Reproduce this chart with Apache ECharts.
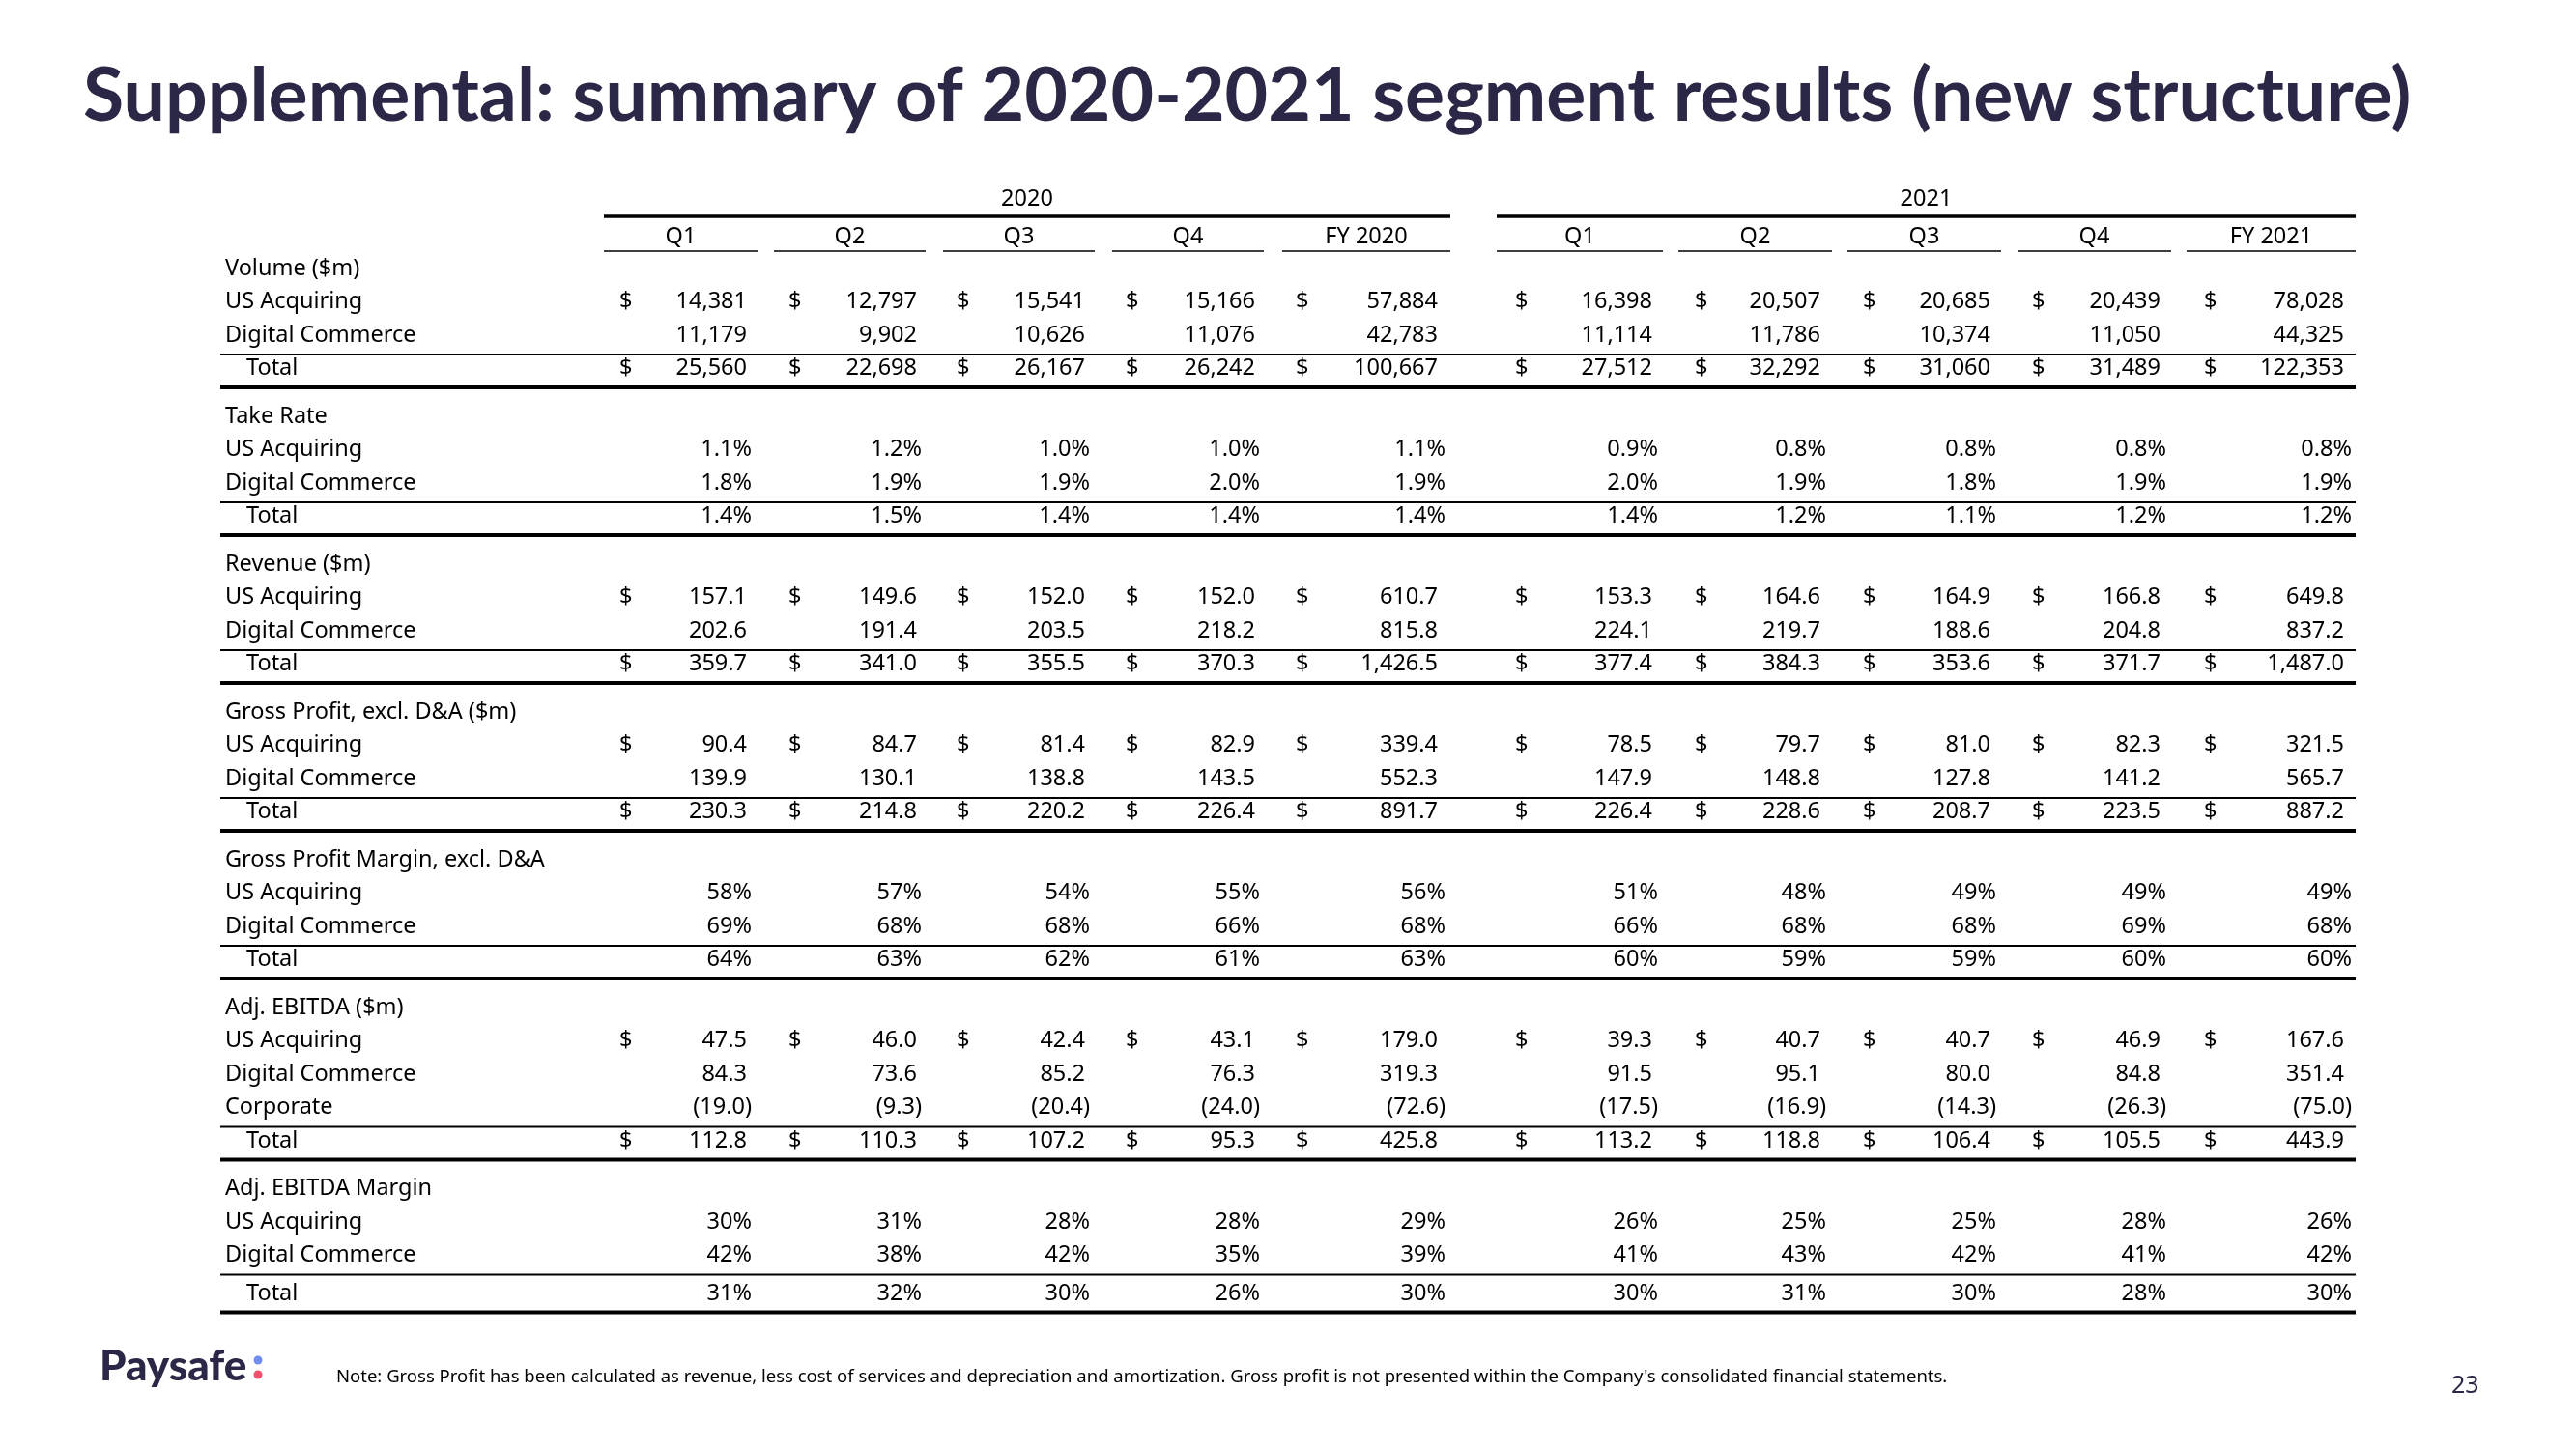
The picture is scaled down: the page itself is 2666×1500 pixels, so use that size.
<!DOCTYPE html>
<html><head><meta charset="utf-8">
<script src="https://cdn.jsdelivr.net/npm/echarts@6/dist/echarts.min.js"></script>
<style>html,body{margin:0;padding:0;background:#fff}#c{width:2666px;height:1500px}</style>
</head><body><div id="c"></div>
<script>
// ---------------- DATA ----------------
const titleText = 'Supplemental: summary of 2020-2021 segment results (new structure)';
const years = ['2020', '2021'];
const periods = ['Q1', 'Q2', 'Q3', 'Q4', 'FY 2020', 'Q1', 'Q2', 'Q3', 'Q4', 'FY 2021'];
const sectionTitles = ['Volume ($m)', 'Take Rate', 'Revenue ($m)', 'Gross Profit, excl. D&A ($m)',
  'Gross Profit Margin, excl. D&A', 'Adj. EBITDA ($m)', 'Adj. EBITDA Margin'];
const segUS = 'US Acquiring';
const segDC = 'Digital Commerce';
const segCorp = 'Corporate';
const segTotal = 'Total';

const volumeUS    = [14381, 12797, 15541, 15166, 57884, 16398, 20507, 20685, 20439, 78028];
const volumeDC    = [11179, 9902, 10626, 11076, 42783, 11114, 11786, 10374, 11050, 44325];
const volumeTotal = [25560, 22698, 26167, 26242, 100667, 27512, 32292, 31060, 31489, 122353];

const takeRateUS    = [1.1, 1.2, 1.0, 1.0, 1.1, 0.9, 0.8, 0.8, 0.8, 0.8];
const takeRateDC    = [1.8, 1.9, 1.9, 2.0, 1.9, 2.0, 1.9, 1.8, 1.9, 1.9];
const takeRateTotal = [1.4, 1.5, 1.4, 1.4, 1.4, 1.4, 1.2, 1.1, 1.2, 1.2];

const revenueUS    = [157.1, 149.6, 152.0, 152.0, 610.7, 153.3, 164.6, 164.9, 166.8, 649.8];
const revenueDC    = [202.6, 191.4, 203.5, 218.2, 815.8, 224.1, 219.7, 188.6, 204.8, 837.2];
const revenueTotal = [359.7, 341.0, 355.5, 370.3, 1426.5, 377.4, 384.3, 353.6, 371.7, 1487.0];

const grossProfitUS    = [90.4, 84.7, 81.4, 82.9, 339.4, 78.5, 79.7, 81.0, 82.3, 321.5];
const grossProfitDC    = [139.9, 130.1, 138.8, 143.5, 552.3, 147.9, 148.8, 127.8, 141.2, 565.7];
const grossProfitTotal = [230.3, 214.8, 220.2, 226.4, 891.7, 226.4, 228.6, 208.7, 223.5, 887.2];

const gpMarginUS    = [58, 57, 54, 55, 56, 51, 48, 49, 49, 49];
const gpMarginDC    = [69, 68, 68, 66, 68, 66, 68, 68, 69, 68];
const gpMarginTotal = [64, 63, 62, 61, 63, 60, 59, 59, 60, 60];

const ebitdaUS    = [47.5, 46.0, 42.4, 43.1, 179.0, 39.3, 40.7, 40.7, 46.9, 167.6];
const ebitdaDC    = [84.3, 73.6, 85.2, 76.3, 319.3, 91.5, 95.1, 80.0, 84.8, 351.4];
const ebitdaCorp  = [-19.0, -9.3, -20.4, -24.0, -72.6, -17.5, -16.9, -14.3, -26.3, -75.0];
const ebitdaTotal = [112.8, 110.3, 107.2, 95.3, 425.8, 113.2, 118.8, 106.4, 105.5, 443.9];

const ebitdaMarginUS    = [30, 31, 28, 28, 29, 26, 25, 25, 28, 26];
const ebitdaMarginDC    = [42, 38, 42, 35, 39, 41, 43, 42, 41, 42];
const ebitdaMarginTotal = [31, 32, 30, 26, 30, 30, 31, 30, 28, 30];

const noteText = "Note: Gross Profit has been calculated as revenue, less cost of services and depreciation and amortization. Gross profit is not presented within the Company's consolidated financial statements.";
const pageNumber = '23';
const logoText = 'Paysafe';

// ---------------- FORMATTERS ----------------
const fmtInt = v => v.toLocaleString('en-US');
const fmtDec = v => {
  const s = Math.abs(v).toLocaleString('en-US', {minimumFractionDigits: 1, maximumFractionDigits: 1});
  return v < 0 ? '(' + s + ')' : s;
};
const fmtPct1 = v => v.toFixed(1) + '%';
const fmtPct0 = v => v.toFixed(0) + '%';

const sections = [
  {title: sectionTitles[0], fmt: fmtInt, pct: false, dollar: true,
   rows: [[segUS, volumeUS], [segDC, volumeDC]], total: volumeTotal},
  {title: sectionTitles[1], fmt: fmtPct1, pct: true, dollar: false,
   rows: [[segUS, takeRateUS], [segDC, takeRateDC]], total: takeRateTotal},
  {title: sectionTitles[2], fmt: fmtDec, pct: false, dollar: true,
   rows: [[segUS, revenueUS], [segDC, revenueDC]], total: revenueTotal},
  {title: sectionTitles[3], fmt: fmtDec, pct: false, dollar: true,
   rows: [[segUS, grossProfitUS], [segDC, grossProfitDC]], total: grossProfitTotal},
  {title: sectionTitles[4], fmt: fmtPct0, pct: true, dollar: false,
   rows: [[segUS, gpMarginUS], [segDC, gpMarginDC]], total: gpMarginTotal},
  {title: sectionTitles[5], fmt: fmtDec, pct: false, dollar: true,
   rows: [[segUS, ebitdaUS], [segDC, ebitdaDC], [segCorp, ebitdaCorp]], total: ebitdaTotal},
  {title: sectionTitles[6], fmt: fmtPct0, pct: true, dollar: false,
   rows: [[segUS, ebitdaMarginUS], [segDC, ebitdaMarginDC]], total: ebitdaMarginTotal, totalExtra: 5}
];

// ---------------- LAYOUT (pixel units on hidden value axes) ----------------
const W = 2666, H = 1500;
const colRight  = [778, 954, 1128, 1304, 1496, 1716, 1890, 2066, 2242, 2434];
const numPad    = [5, 5, 5, 5, 8, 6, 6, 6, 6, 8];
const dollarLeft = [641, 816, 990, 1165, 1341, 1568, 1754, 1928, 2103, 2281];
const colSpan = [[625, 784], [801, 958], [976, 1133], [1151, 1308], [1327, 1501],
                 [1549, 1721], [1737, 1896], [1912, 2071], [2088, 2247], [2263, 2438]];
const yearSpan = [[625, 1501], [1549, 2438]];
const tableLeft = 228, tableRight = 2438;
const labelX = 233, totalX = 255;
const yearY = 206, yearLineY = 224, periodY = 245, periodLineY = 260;
const firstHeaderY = 278, rowStep = 34.5;

const FONT = '"Noto Sans", "Open Sans", sans-serif';
const cellFont = 23.5;

const cells = [];   // {x, y, text, align}
const rules = [];   // {x1, x2, y, w}

years.forEach((yr, i) => {
  cells.push({x: (yearSpan[i][0] + yearSpan[i][1]) / 2, y: yearY, text: yr, align: 'center'});
  rules.push({x1: yearSpan[i][0], x2: yearSpan[i][1], y: yearLineY, w: 3.5});
});
periods.forEach((p, c) => {
  cells.push({x: (colSpan[c][0] + colSpan[c][1]) / 2, y: periodY, text: p, align: 'center'});
  rules.push({x1: colSpan[c][0], x2: colSpan[c][1], y: periodLineY, w: 1.5});
});

let hy = firstHeaderY;
sections.forEach(sec => {
  cells.push({x: labelX, y: hy, text: sec.title, align: 'left'});
  const allRows = sec.rows.map(r => ({label: r[0], vals: r[1], x: labelX}));
  allRows.push({label: segTotal, vals: sec.total, x: totalX, isTotal: true});
  let ty = hy, lineY = hy;
  allRows.forEach((row, ri) => {
    let y = hy + rowStep * (ri + 1);
    if (row.isTotal) {
      lineY = y - 14.5;
      if (sec.totalExtra) y += sec.totalExtra;
      ty = y;
    }
    cells.push({x: row.x, y: y, text: row.label, align: 'left'});
    row.vals.forEach((v, c) => {
      const txt = sec.fmt(v);
      const rx = (sec.pct || v < 0) ? colRight[c] : colRight[c] - numPad[c];
      cells.push({x: rx, y: y, text: txt, align: 'right'});
      if (sec.dollar && (ri === 0 || row.isTotal)) {
        cells.push({x: dollarLeft[c], y: y, text: '$', align: 'left'});
      }
    });
  });
  rules.push({x1: tableLeft, x2: tableRight, y: lineY, w: 2});
  rules.push({x1: tableLeft, x2: tableRight, y: ty + 19.5, w: 4});
  hy = ty + 19.5 + 30;
});

const option = {
  animation: false,
  backgroundColor: '#ffffff',
  grid: {left: 0, right: 0, top: 0, bottom: 0, containLabel: false},
  xAxis: {type: 'value', min: 0, max: W, show: false},
  yAxis: {type: 'value', min: 0, max: H, inverse: true, show: false},
  title: [
    {text: titleText, left: 81, top: 57,
     textStyle: {fontFamily: 'Lato, "Noto Sans", sans-serif', fontWeight: 'bold', fontSize: 77, color: '#2b2746'}},
    {text: noteText, left: 343, top: 1411,
     textStyle: {fontFamily: FONT, fontWeight: 'normal', fontSize: 18.5, color: '#000'}},
    {text: pageNumber, left: 2532, top: 1417,
     textStyle: {fontFamily: FONT, fontWeight: 'normal', fontSize: 25, color: '#2b2746'}},
    {text: logoText, left: 98, top: 1388,
     textStyle: {fontFamily: 'Lato, "Noto Sans", sans-serif', fontWeight: 900, fontSize: 44, color: '#2b2746'}}
  ],
  graphic: [
    {type: 'circle', shape: {cx: 267, cy: 1408, r: 4.5}, style: {fill: '#6f8df0'}},
    {type: 'circle', shape: {cx: 267, cy: 1423, r: 4.5}, style: {fill: '#f0506e'}}
  ],
  series: [
    {
      type: 'custom', name: 'rules', silent: true,
      data: rules.map(r => [r.x1, r.y, r.x2, r.w]),
      renderItem: (params, api) => {
        const p1 = api.coord([api.value(0), api.value(1)]);
        const p2 = api.coord([api.value(2), api.value(1)]);
        const w = api.value(3);
        return {type: 'rect', shape: {x: p1[0], y: p1[1] - w / 2, width: p2[0] - p1[0], height: w},
                style: {fill: '#000'}};
      }
    },
    {
      type: 'custom', name: 'cells', silent: true,
      data: cells.map(c => [c.x, c.y]),
      renderItem: (params, api) => {
        const c = cells[params.dataIndex];
        const p = api.coord([api.value(0), api.value(1)]);
        return {type: 'text', x: p[0], y: p[1],
                style: {text: c.text, fill: '#000', fontFamily: FONT, fontSize: cellFont,
                        align: c.align, verticalAlign: 'middle'}};
      }
    }
  ]
};
const chart = echarts.init(document.getElementById('c'), null, {width: W, height: H});
chart.setOption(option);
</script></body></html>
